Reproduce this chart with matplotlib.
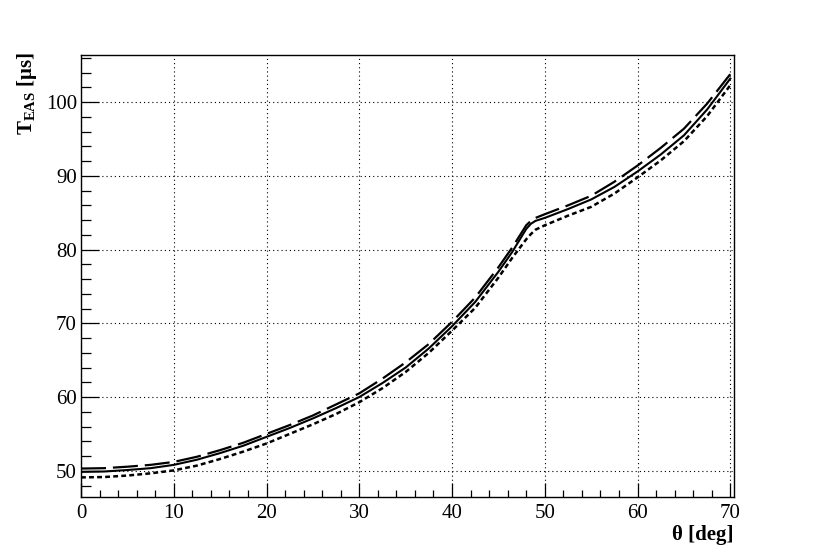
import matplotlib
matplotlib.use("Agg")
import matplotlib.pyplot as plt
from matplotlib.ticker import MultipleLocator

plt.rcParams['font.family'] = ['Liberation Serif', 'DejaVu Serif']
plt.rcParams['mathtext.fontset'] = 'custom'
plt.rcParams['mathtext.rm'] = 'Liberation Serif'
plt.rcParams['mathtext.bf'] = 'Liberation Serif:bold'
plt.rcParams['lines.scale_dashes'] = False

theta = [0, 2.5, 5, 7.5, 10, 12.5, 15, 17.5, 20, 22.5, 25, 27.5, 30, 32.5, 35, 37.5,
         40, 42.5, 45, 46.5, 48, 48.5, 49, 50, 52.5, 55, 57.5, 60, 62.5, 65, 67.5, 70]

t_solid = [49.85, 49.9, 50.1, 50.35, 50.8, 51.5, 52.4, 53.4, 54.6, 55.8, 57.1, 58.5,
           60.0, 61.9, 64.0, 66.6, 69.6, 72.9, 77.0, 79.7, 82.8, 83.5, 83.9, 84.3,
           85.5, 86.8, 88.5, 90.6, 92.9, 95.5, 99.0, 103.2]

t_dashed = [50.3, 50.35, 50.55, 50.8, 51.2, 51.9, 52.8, 53.8, 55.0, 56.2, 57.5, 59.0,
            60.5, 62.5, 64.7, 67.2, 70.2, 73.5, 77.6, 80.3, 83.3, 83.9, 84.3, 84.8,
            86.0, 87.3, 89.2, 91.4, 93.8, 96.4, 99.8, 103.8]

t_dotted = [49.1, 49.15, 49.35, 49.65, 50.05, 50.7, 51.6, 52.6, 53.7, 55.0, 56.3, 57.7,
            59.3, 61.2, 63.4, 66.0, 69.0, 72.1, 76.2, 78.9, 81.4, 82.1, 82.7, 83.3,
            84.6, 85.8, 87.6, 89.8, 92.1, 94.7, 98.1, 102.3]

x_ticks = [0, 10, 20, 30, 40, 50, 60, 70]
y_ticks = [50, 60, 70, 80, 90, 100]

fig = plt.figure(figsize=(8.16, 5.53), dpi=100)
ax = fig.add_axes([81/816, 1-497.3/553, (734-81)/816, (497.3-55)/553])

ax.plot(theta, t_dashed, color='black', lw=1.6, dashes=(18, 5))
ax.plot(theta, t_solid, color='black', lw=1.5)
ax.plot(theta, t_dotted, color='black', lw=1.8, dashes=(3.5, 2.3))

ax.set_xlim(0, 70.4)
ax.set_ylim(46.4, 106.4)
ax.set_xticks(x_ticks)
ax.set_yticks(y_ticks)
ax.xaxis.set_minor_locator(MultipleLocator(2))
ax.yaxis.set_minor_locator(MultipleLocator(2))

ax.grid(True, which='major', color='black', lw=0.8, dashes=(0.8, 2.2))
ax.set_axisbelow(True)

ax.tick_params(which='both', direction='in', top=False, right=False, width=0.9, labelsize=15)
ax.tick_params(axis='x', which='major', length=10, pad=5)
ax.tick_params(axis='x', which='minor', length=5)
ax.tick_params(axis='y', which='major', length=13, pad=3)
ax.tick_params(axis='y', which='minor', length=7)

for s in ax.spines.values():
    s.set_linewidth(1.0)

fig.text(734/816, 1-535/553, 'θ [deg]', ha='right', va='center',
         fontsize=15, fontweight='bold')
fig.text(27/816, 1-52/553, r'$\mathbf{T}_{\mathbf{EAS}}$' + ' [μs]', rotation=90,
         ha='center', va='top', fontsize=15, fontweight='bold')

fig.savefig('out.png', dpi=100)
